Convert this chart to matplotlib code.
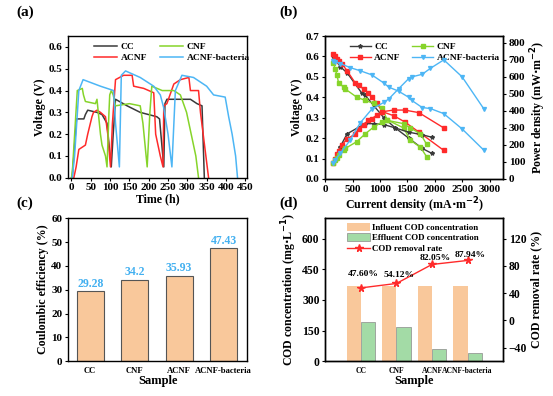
import numpy as np
import matplotlib
matplotlib.use("Agg")
import matplotlib.pyplot as plt

plt.rcParams['font.family'] = ['Liberation Serif', 'DejaVu Serif']
plt.rcParams['font.weight'] = 'bold'
plt.rcParams['axes.labelweight'] = 'bold'
plt.rcParams['axes.linewidth'] = 1.0
plt.rcParams['xtick.direction'] = 'out'
plt.rcParams['ytick.direction'] = 'out'
plt.rcParams['xtick.major.size'] = 2.5
plt.rcParams['ytick.major.size'] = 2.5

# ---- (a) voltage vs time ----
cc_t = [0, 2, 13, 32, 36, 42, 66, 79, 92, 100, 103, 108, 114, 144, 178, 221, 228, 239, 242, 247, 308, 325, 338, 344]
cc_v = [0.0, 0.0, 0.27, 0.27, 0.29, 0.31, 0.30, 0.29, 0.25, 0.10, 0.05, 0.20, 0.36, 0.33, 0.30, 0.28, 0.27, 0.05, 0.34, 0.36, 0.36, 0.34, 0.33, 0.0]

cnf_t = [0, 3, 15, 28, 31, 36, 62, 66, 75, 79, 88, 92, 97, 99, 103, 108, 114, 150, 178, 185, 196, 203, 208, 235, 265, 282, 298, 310, 322, 329]
cnf_v = [0.0, 0.05, 0.40, 0.41, 0.38, 0.35, 0.34, 0.36, 0.20, 0.15, 0.10, 0.05, 0.30, 0.38, 0.40, 0.38, 0.33, 0.34, 0.33, 0.25, 0.05, 0.30, 0.42, 0.40, 0.40, 0.38, 0.30, 0.20, 0.10, 0.0]

acnf_t = [6, 12, 19, 36, 42, 53, 57, 66, 75, 88, 94, 101, 106, 114, 135, 157, 161, 187, 213, 218, 230, 237, 239, 247, 265, 282, 304, 308, 329, 334, 355]
acnf_v = [0.0, 0.05, 0.13, 0.15, 0.20, 0.28, 0.30, 0.31, 0.30, 0.28, 0.20, 0.05, 0.25, 0.45, 0.47, 0.47, 0.42, 0.41, 0.39, 0.20, 0.10, 0.05, 0.33, 0.34, 0.43, 0.45, 0.46, 0.40, 0.40, 0.30, 0.0]

bact_t = [2, 8, 19, 30, 75, 109, 114, 124, 129, 140, 178, 213, 230, 239, 250, 260, 269, 286, 316, 350, 368, 398, 407, 416, 425, 430]
bact_v = [0.0, 0.10, 0.40, 0.45, 0.42, 0.40, 0.25, 0.05, 0.47, 0.49, 0.46, 0.42, 0.38, 0.32, 0.20, 0.05, 0.40, 0.47, 0.46, 0.42, 0.38, 0.37, 0.28, 0.20, 0.10, 0.0]

# ---- (b) polarization & power density ----
cc_i = [150, 275, 400, 670, 730, 885, 1070, 1280, 1525, 1770, 1950]
cc_vb = [0.60, 0.55, 0.52, 0.42, 0.41, 0.36, 0.30, 0.25, 0.20, 0.15, 0.125]
cc_p = [95, 190, 265, 315, 325, 325, 320, 300, 275, 260, 245]

cnf_i = [150, 180, 215, 245, 340, 370, 580, 730, 885, 1040, 1130, 1430, 1555, 1740, 1850]
cnf_vb = [0.57, 0.54, 0.51, 0.47, 0.45, 0.44, 0.40, 0.385, 0.37, 0.35, 0.29, 0.25, 0.19, 0.155, 0.11]
cnf_p = [95, 110, 125, 140, 170, 180, 220, 265, 305, 335, 345, 325, 300, 265, 205]

acnf_i = [150, 180, 215, 245, 305, 400, 550, 610, 700, 790, 850, 945, 1040, 1250, 1450, 1710, 2165]
acnf_vb = [0.61, 0.60, 0.59, 0.58, 0.565, 0.53, 0.47, 0.46, 0.44, 0.42, 0.40, 0.37, 0.33, 0.31, 0.28, 0.23, 0.14]
acnf_p = [95, 120, 145, 165, 200, 235, 265, 295, 320, 345, 355, 375, 395, 405, 405, 390, 300]

bact_i = [150, 180, 275, 460, 640, 850, 1070, 1160, 1340, 1525, 1580, 1770, 1920, 2165, 2500, 2900]
bact_vb = [0.58, 0.575, 0.565, 0.545, 0.53, 0.51, 0.47, 0.45, 0.43, 0.40, 0.385, 0.35, 0.345, 0.32, 0.245, 0.14]
bact_p = [95, 110, 150, 230, 330, 410, 450, 470, 530, 590, 600, 615, 650, 700, 600, 410]

# ---- (c) coulombic efficiency ----
samples = ['CC', 'CNF', 'ACNF', 'ACNF-bacteria']
ce = [29.28, 34.2, 35.93, 47.43]
ce_labels = ['29.28', '34.2', '35.93', '47.43']

# ---- (d) COD ----
cod_in = [370, 370, 370, 370]
cod_out = [191, 165, 58, 41]
cod_rate = [47.60, 54.12, 82.05, 87.94]
rate_labels = ['47.60%', '54.12%', '82.05%', '87.94%']

c_cc = '#3a3a3a'
c_cnf = '#86d42a'
c_acnf = '#ff2a2a'
c_bact = '#4db6f5'
peach = '#f9c89b'
mint = '#a3dba6'
lblue = '#43b0f0'

fig = plt.figure(figsize=(5.53, 3.96), dpi=100)

fs_tick = 8.0
fs_lab = 8.6
fs_leg = 6.8

# (a)
ax1 = fig.add_axes([0.123, 0.551, 0.324, 0.358])
ax1.plot(cc_t, cc_v, color=c_cc, lw=1.1, label='CC')
ax1.plot(acnf_t, acnf_v, color=c_acnf, lw=1.1, label='ACNF')
ax1.plot(cnf_t, cnf_v, color=c_cnf, lw=1.1, label='CNF')
ax1.plot(bact_t, bact_v, color=c_bact, lw=1.1, label='ACNF-bacteria')
ax1.set_xlim(-9, 455)
ax1.set_ylim(0, 0.65)
ax1.set_xticks(np.arange(0, 451, 50))
ax1.set_yticks(np.arange(0, 0.61, 0.1))
ax1.set_yticklabels(['0.0', '0.1', '0.2', '0.3', '0.4', '0.5', '0.6'])
ax1.tick_params(labelsize=fs_tick, pad=1.5)
ax1.set_xlabel('Time (h)', fontsize=fs_lab, labelpad=1)
ax1.set_ylabel('Voltage (V)', fontsize=fs_lab, labelpad=2)
ax1.legend(ncol=2, loc='upper center', bbox_to_anchor=(0.58, 1.0), frameon=False,
           fontsize=fs_leg, handlelength=2.4, columnspacing=1.4, labelspacing=0.25,
           handletextpad=0.4, borderaxespad=0.3)

# (b)
ax2 = fig.add_axes([0.588, 0.548, 0.322, 0.361])
ax2.plot(cc_i, cc_vb, color=c_cc, lw=1.0, marker='*', ms=3, label='CC')
ax2.plot(acnf_i, acnf_vb, color=c_acnf, lw=1.0, marker='s', ms=2.5, label='ACNF')
ax2.plot(cnf_i, cnf_vb, color=c_cnf, lw=1.0, marker='s', ms=2.2, label='CNF')
ax2.plot(bact_i, bact_vb, color=c_bact, lw=1.0, marker='v', ms=2.8, label='ACNF-bacteria')
ax2.set_xlim(0, 3250)
ax2.set_ylim(0, 0.7)
ax2.set_xticks(np.arange(0, 3001, 500))
ax2.set_yticks(np.arange(0, 0.71, 0.1))
ax2.set_yticklabels(['0.0', '0.1', '0.2', '0.3', '0.4', '0.5', '0.6', '0.7'])
ax2.tick_params(labelsize=fs_tick, pad=1.5)
ax2.set_xlabel('Current density (mA$\\cdot$m$^{-2}$)', fontsize=fs_lab, labelpad=1)
ax2.set_ylabel('Voltage (V)', fontsize=fs_lab, labelpad=2)
ax2b = ax2.twinx()
ax2b.plot(cc_i, cc_p, color=c_cc, lw=1.0, marker='*', ms=3)
ax2b.plot(acnf_i, acnf_p, color=c_acnf, lw=1.0, marker='s', ms=2.5)
ax2b.plot(cnf_i, cnf_p, color=c_cnf, lw=1.0, marker='s', ms=2.2)
ax2b.plot(bact_i, bact_p, color=c_bact, lw=1.0, marker='v', ms=2.8)
ax2b.set_ylim(0, 840)
ax2b.set_yticks(np.arange(0, 801, 100))
ax2b.tick_params(labelsize=fs_tick, pad=1.5)
ax2b.set_ylabel('Power density (mW$\\cdot$m$^{-2}$)', fontsize=fs_lab, labelpad=2)
ax2.legend(ncol=2, loc='upper center', bbox_to_anchor=(0.56, 1.0), frameon=False,
           fontsize=fs_leg, handlelength=2.2, columnspacing=1.2, labelspacing=0.25,
           handletextpad=0.4, borderaxespad=0.3)

# (c)
ax3 = fig.add_axes([0.123, 0.088, 0.324, 0.361])
xc = np.arange(len(samples))
ax3.bar(xc, ce, width=0.6, color=peach, edgecolor='#555555', lw=0.8)
for xi, v, s in zip(xc, ce, ce_labels):
    ax3.text(xi, v + 0.5, s, ha='center', va='bottom', color=lblue, fontsize=8.5, fontweight='bold')
ax3.set_xlim(-0.5, 3.53)
ax3.set_ylim(0, 60)
ax3.set_xticks(xc)
ax3.set_xticklabels(samples, fontsize=6.2)
ax3.set_yticks(np.arange(0, 61, 10))
ax3.tick_params(axis='y', labelsize=fs_tick, pad=1.5)
ax3.tick_params(axis='x', length=0, pad=4)
ax3.set_xlabel('Sample', fontsize=fs_lab + 0.4, labelpad=0)
ax3.set_ylabel('Coulombic efficiency (%)', fontsize=fs_lab, labelpad=2)

# (d)
ax4 = fig.add_axes([0.588, 0.088, 0.322, 0.361])
xd = np.arange(len(samples))
ax4.bar(xd - 0.2, cod_in, width=0.4, color=peach, label='Influent COD concentration')
ax4.bar(xd + 0.2, cod_out, width=0.4, color=mint, edgecolor='#8a8a8a', lw=0.5,
        label='Effluent COD concentration')
ax4.set_xlim(-1, 4)
ax4.set_ylim(0, 700)
ax4.set_xticks(xd)
ax4.set_xticklabels(samples, fontsize=5.5)
ax4.set_yticks(np.arange(0, 601, 150))
ax4.tick_params(axis='y', labelsize=fs_tick + 0.4, pad=1.5)
ax4.tick_params(axis='x', length=0, pad=4)
ax4.set_xlabel('Sample', fontsize=fs_lab + 0.4, labelpad=0)
ax4.set_ylabel('COD concentration (mg$\\cdot$L$^{-1}$)', fontsize=fs_lab, labelpad=2)
ax4b = ax4.twinx()
ax4b.plot(xd, cod_rate, color=c_acnf, lw=1.0, marker='*', ms=5.5, label='COD removal rate')
rate_dy = [20, 13, 10, 8]
for xi, v, s, dy in zip(xd, cod_rate, rate_labels, rate_dy):
    ax4b.text(xi + 0.08, v + dy, s, ha='center', va='center', fontsize=6.8, fontweight='bold')
ax4b.set_ylim(-60, 150)
ax4b.set_yticks(np.arange(-40, 121, 40))
ax4b.tick_params(labelsize=fs_tick + 0.4, pad=1.5)
ax4b.set_ylabel('COD removal rate (%)', fontsize=fs_lab, labelpad=2)
h1, l1 = ax4.get_legend_handles_labels()
h2, l2 = ax4b.get_legend_handles_labels()
ax4.legend(h1 + h2, l1 + l2, loc='upper left', bbox_to_anchor=(0.1, 1.0), frameon=False,
           fontsize=6.4, handlelength=2.5, handleheight=1.0, labelspacing=0.2,
           handletextpad=0.3, borderaxespad=0.1)

for lbl, x, y in [('(a)', 0.03, 0.985), ('(b)', 0.505, 0.985), ('(c)', 0.03, 0.505), ('(d)', 0.505, 0.505)]:
    fig.text(x, y, lbl, fontsize=11, fontweight='bold', ha='left', va='top')

fig.savefig('out.png', dpi=100)
